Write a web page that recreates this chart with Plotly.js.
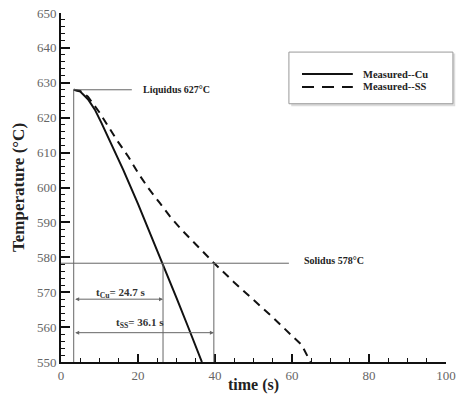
<!DOCTYPE html>
<html>
<head>
<meta charset="utf-8">
<script src="https://cdn.plot.ly/plotly-3.0.1.min.js"></script>
<style>html,body{margin:0;padding:0;background:#fff;}#chart{width:457px;height:394px;}</style>
</head>
<body>
<div id="chart"></div>
<script>
// Measured cooling curves
const cuTime = [3.3, 5, 7, 8.8, 10.5, 12.3, 14.2, 16.2, 20, 23, 26.5, 30, 33, 36.6];
const cuTemp = [628, 627.5, 625.3, 622.3, 618.5, 614.2, 609.7, 605, 595.3, 587.3, 578.2, 568.4, 560.1, 550];
const ssTime = [3.3, 5, 7, 10, 14.5, 17.5, 20, 22.7, 25.7, 28.3, 31.4, 34.8, 38.3, 39.6, 45, 50, 55, 60, 62.5, 64.8];
const ssTemp = [628, 627.7, 626, 621.5, 613.6, 608.8, 604.2, 599.8, 595.5, 591.7, 587.8, 584, 580.2, 578.5, 572.8, 567.8, 562.8, 557.5, 554.9, 550];
const seriesNames = ['Measured--Cu', 'Measured--SS'];

// Reference marks
const liquidusT = 628, liquidusLabel = 'Liquidus 627°C';
const solidusT = 578.3, solidusLabel = 'Solidus 578°C';
const tStart = 3.3, tCuEnd = 26.5, tSSEnd = 39.7;
const tCuLabel = 't<sub>Cu</sub>= 24.7 s', tSSLabel = 't<sub>SS</sub>= 36.1 s';
const tCuArrowT = 568, tSSArrowT = 558.4;

const serif = 'Liberation Serif, Times New Roman, serif';
const gray = '#666';
const ink = '#111';

const traces = [
  {x: cuTime, y: cuTemp, name: seriesNames[0], mode: 'lines', line: {color: ink, width: 2}},
  {x: ssTime, y: ssTemp, name: seriesNames[1], mode: 'lines', line: {color: ink, width: 2, dash: '8px,6px'}}
];

// legend geometry (paper coords)
const legRowY = [0.825, 0.788];
const legLineX = [0.626, 0.758];
const legTextX = 0.78;
const legDash = ['solid', '12px,8px'];

const shapes = [
  {type: 'line', xref: 'x', yref: 'y', x0: tStart, x1: 18.4, y0: liquidusT, y1: liquidusT, line: {color: gray, width: 1}},
  {type: 'line', xref: 'x', yref: 'y', x0: 0, x1: 59.2, y0: solidusT, y1: solidusT, line: {color: gray, width: 1}},
  {type: 'line', xref: 'x', yref: 'y', x0: tStart, x1: tStart, y0: 550, y1: liquidusT, line: {color: gray, width: 1}},
  {type: 'line', xref: 'x', yref: 'y', x0: tCuEnd, x1: tCuEnd, y0: 550, y1: solidusT, line: {color: gray, width: 1}},
  {type: 'line', xref: 'x', yref: 'y', x0: tSSEnd, x1: tSSEnd, y0: 550, y1: solidusT, line: {color: gray, width: 1}},
  // legend box shadow and frame
  {type: 'rect', xref: 'paper', yref: 'paper', x0: 0.598, x1: 1.024, y0: 0.733, y1: 0.884, line: {width: 0}, fillcolor: '#dcdcdc', layer: 'below'},
  {type: 'rect', xref: 'paper', yref: 'paper', x0: 0.592, x1: 1.018, y0: 0.74, y1: 0.888, line: {color: '#999', width: 1}, fillcolor: '#fff', layer: 'below'}
];
seriesNames.forEach((n, i) => {
  shapes.push({type: 'line', xref: 'paper', yref: 'paper', x0: legLineX[0], x1: legLineX[1], y0: legRowY[i], y1: legRowY[i],
               line: {color: ink, width: 2, dash: legDash[i]}});
});

const annFont = {family: serif, size: 10, color: '#222'};
const tFont = {family: serif, size: 11, color: '#333'};
const annotations = [
  {x: 20.8, y: liquidusT, xref: 'x', yref: 'y', text: '<b>' + liquidusLabel + '</b>', showarrow: false, xanchor: 'left', yanchor: 'middle', font: annFont},
  {x: 62.6, y: solidusT + 0.7, xref: 'x', yref: 'y', text: '<b>' + solidusLabel + '</b>', showarrow: false, xanchor: 'left', yanchor: 'middle', font: annFont},
  {x: tCuEnd, y: tCuArrowT, ax: tStart, ay: tCuArrowT, xref: 'x', yref: 'y', axref: 'x', ayref: 'y', text: '', showarrow: true, arrowside: 'end+start', arrowhead: 2, arrowsize: 0.8, arrowwidth: 1, arrowcolor: gray},
  {x: tSSEnd, y: tSSArrowT, ax: tStart, ay: tSSArrowT, xref: 'x', yref: 'y', axref: 'x', ayref: 'y', text: '', showarrow: true, arrowside: 'end+start', arrowhead: 2, arrowsize: 0.8, arrowwidth: 1, arrowcolor: gray},
  {x: 15.7, y: tCuArrowT + 1.9, xref: 'x', yref: 'y', text: '<b>' + tCuLabel + '</b>', showarrow: false, xanchor: 'center', yanchor: 'middle', font: tFont},
  {x: 20.5, y: tSSArrowT + 2.8, xref: 'x', yref: 'y', text: '<b>' + tSSLabel + '</b>', showarrow: false, xanchor: 'center', yanchor: 'middle', font: tFont}
];
seriesNames.forEach((n, i) => {
  annotations.push({x: legTextX, y: legRowY[i], xref: 'paper', yref: 'paper', text: '<b>' + n + '</b>', showarrow: false,
                    xanchor: 'left', yanchor: 'middle', font: {family: serif, size: 10.5, color: '#222'}});
});

const layout = {
  width: 457, height: 394,
  margin: {l: 61, r: 11, t: 13, b: 32},
  paper_bgcolor: '#fff', plot_bgcolor: '#fff',
  font: {family: serif, color: '#222'},
  showlegend: false,
  xaxis: {
    range: [0, 100], dtick: 20, tick0: 0, showgrid: false, zeroline: false,
    showline: true, linecolor: ink, linewidth: 2,
    ticks: 'inside', ticklen: 8, tickwidth: 2, tickcolor: ink,
    tickfont: {family: serif, size: 13, color: '#666'},
    minor: {dtick: 5, ticks: 'inside', ticklen: 4, tickwidth: 1, tickcolor: ink, showgrid: false},
    title: {text: '<b>time (s)</b>', font: {family: serif, size: 16, color: '#222'}, standoff: 2}
  },
  yaxis: {
    range: [550, 650], dtick: 10, tick0: 550, showgrid: false, zeroline: false,
    showline: true, linecolor: ink, linewidth: 2,
    ticks: 'inside', ticklen: 9, tickwidth: 2, tickcolor: ink,
    tickfont: {family: serif, size: 13, color: '#666'},
    minor: {dtick: 2, ticks: 'inside', ticklen: 4, tickwidth: 1, tickcolor: ink, showgrid: false},
    title: {text: '<b>Temperature (°C)</b>', font: {family: serif, size: 17, color: '#222'}, standoff: 8}
  },
  shapes: shapes,
  annotations: annotations
};

Plotly.newPlot('chart', traces, layout, {displayModeBar: false, staticPlot: true});
</script>
</body>
</html>
